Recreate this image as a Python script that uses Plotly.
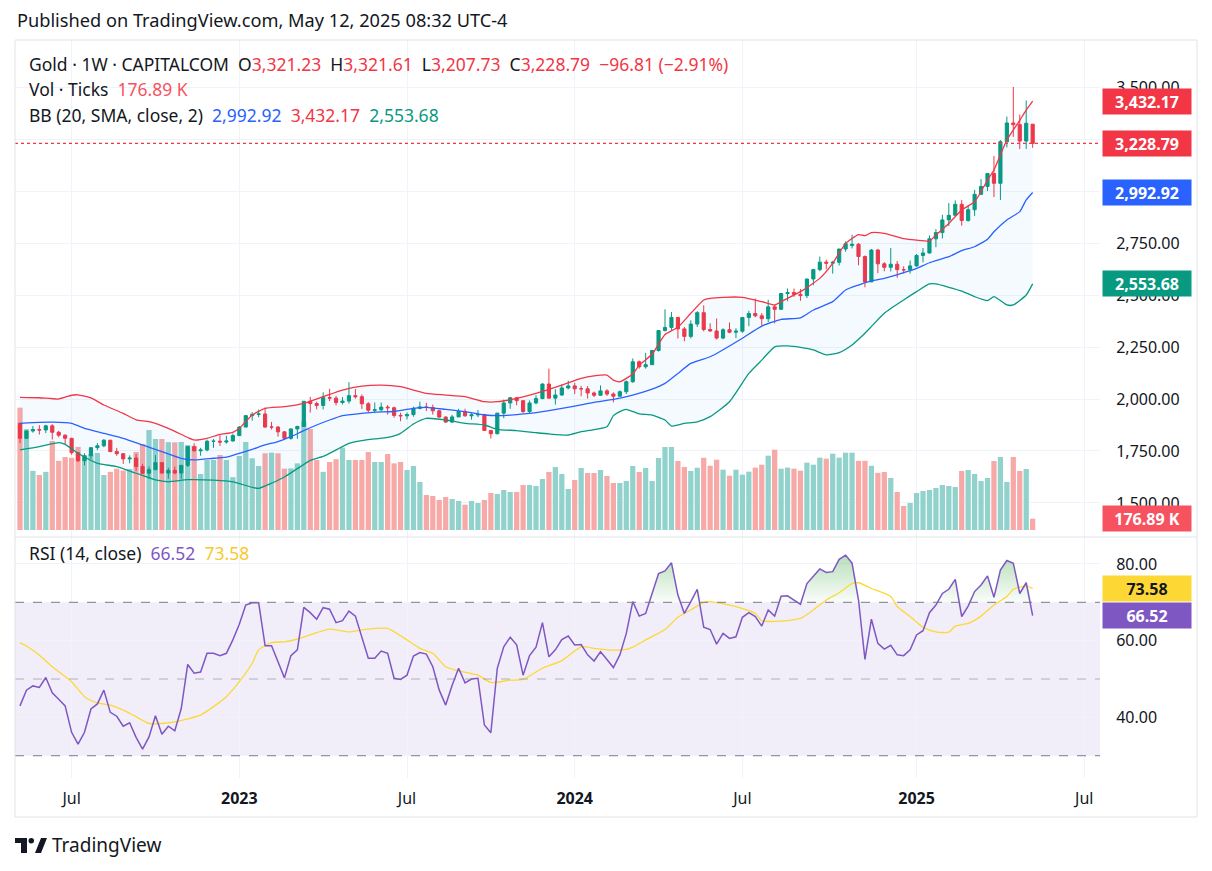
import plotly.graph_objects as go
import pandas as pd

# ---------------- data ----------------
start_date = "2022-05-09"   # first weekly bar (Monday)

opens = [1883,1811,1846,1853,1851,1871,1840,1826,1811,1742,
         1703,1727,1766,1775,1802,1747,1737,1712,1716,1675,
         1643,1660,1694,1644,1657,1644,1681,1771,1751,1755,
         1797,1797,1793,1798,1824,1865,1920,1926,1928,1865,
         1865,1842,1811,1856,1868,1989,1978,1969,2007,2004,
         1983,1990,2016,2011,1977,1946,1948,1961,1958,1921,
         1919,1925,1955,1962,1959,1943,1913,1889,1914,1940,
         1919,1924,1925,1849,1833,1932,1981,2006,1992,1940,
         1981,2002,2072,2004,2019,2053,2063,2049,2049,2029,
         2018,2039,2024,2013,2035,2083,2179,2155,2165,2233,
         2329,2344,2392,2337,2301,2360,2415,2334,2327,2293,
         2333,2321,2326,2392,2411,2400,2386,2443,2431,2507,
         2512,2503,2497,2577,2622,2658,2653,2657,2721,2738,
         2744,2685,2563,2716,2650,2633,2648,2622,2621,2640,
         2690,2702,2770,2800,2861,2883,2936,2858,2910,2984,
         3022,3084,3037,3237,3327,3319,3240,3321.23]
highs = [1886,1849,1870,1874,1876,1879,1847,1830,1813,1746,
         1739,1767,1788,1807,1802,1765,1740,1729,1735,1688,
         1675,1730,1696,1670,1675,1682,1774,1787,1765,1804,
         1808,1825,1823,1833,1870,1922,1937,1949,1959,1890,
         1870,1846,1858,1871,1989,2010,1987,2032,2049,2015,
         2009,2081,2048,2022,1985,1983,1983,1971,1963,1934,
         1935,1963,1987,1982,1973,1948,1917,1924,1953,1953,
         1932,1947,1929,1851,1933,1997,2010,2010,1993,1993,
         2018,2075,2146,2047,2071,2088,2078,2063,2062,2036,
         2065,2047,2032,2041,2089,2195,2185,2222,2236,2330,
         2431,2418,2395,2346,2378,2422,2450,2364,2387,2340,
         2368,2340,2393,2424,2483,2413,2477,2451,2509,2531,
         2531,2529,2578,2626,2685,2670,2664,2722,2758,2790,
         2750,2690,2721,2722,2658,2726,2664,2638,2665,2697,
         2726,2786,2817,2886,2942,2955,2956,2930,3005,3057,
         3086,3168,3245,3358,3500,3367,3435,3321.61]
lows = [1787,1807,1838,1829,1836,1805,1816,1784,1732,1697,
        1681,1711,1754,1768,1745,1727,1688,1691,1654,1640,
        1615,1659,1640,1617,1638,1616,1673,1747,1727,1748,
        1765,1774,1785,1796,1823,1865,1896,1912,1862,1853,
        1819,1809,1804,1809,1866,1935,1950,1950,1990,1969,
        1974,1978,2002,1952,1937,1932,1940,1925,1910,1893,
        1902,1915,1950,1942,1925,1910,1885,1884,1913,1915,
        1901,1913,1846,1810,1830,1908,1953,1970,1932,1931,
        1975,1999,2010,1973,2016,2047,2024,2013,2002,2009,
        2016,2015,1984,2013,2024,2078,2146,2146,2165,2228,
        2325,2332,2291,2277,2291,2346,2325,2323,2286,2287,
        2316,2293,2318,2350,2393,2353,2370,2364,2429,2470,
        2491,2472,2485,2547,2614,2624,2603,2642,2708,2724,
        2643,2537,2563,2605,2614,2613,2583,2603,2603,2636,
        2657,2700,2730,2772,2832,2881,2833,2853,2880,2983,
        3000,2971,2957,3210,3260,3202,3202,3207.73]
closes = [1811,1846,1853,1851,1871,1840,1826,1811,1742,1703,
          1727,1766,1775,1802,1747,1737,1712,1716,1675,1643,
          1660,1694,1644,1657,1644,1681,1771,1751,1755,1797,
          1797,1793,1798,1824,1865,1920,1926,1928,1865,1865,
          1842,1811,1856,1868,1989,1978,1969,2007,2004,1983,
          1990,2016,2011,1977,1946,1948,1961,1958,1921,1919,
          1925,1955,1962,1959,1943,1913,1889,1914,1940,1919,
          1924,1925,1849,1833,1932,1981,2006,1992,1940,1981,
          2002,2072,2004,2019,2053,2063,2049,2049,2029,2018,
          2039,2024,2013,2035,2083,2179,2155,2165,2233,2329,
          2344,2392,2337,2301,2360,2415,2334,2327,2293,2333,
          2321,2326,2392,2411,2400,2386,2443,2431,2507,2512,
          2503,2497,2577,2622,2658,2653,2657,2721,2747,2744,
          2685,2563,2716,2650,2633,2648,2622,2621,2640,2690,
          2702,2770,2800,2861,2883,2936,2858,2910,2984,3022,
          3084,3037,3237,3327,3319,3240,3325.60,3228.79]
volumes_k = [1915,1578,925,861,910,1393,1082,1142,1130,1300,
             1166,1190,1205,861,910,960,930,955,1220,1346,
             1565,1424,1424,1375,1372,1377,1330,1315,876,1096,
             1096,1174,1096,827,1158,1377,1122,1002,1200,1210,
             1200,960,965,1043,1700,1581,1096,910,1064,1108,
             1290,1096,1096,1096,1221,1064,1064,1189,1043,1064,
             939,1002,751,548,532,470,516,485,454,396,
             454,423,470,579,563,626,595,595,704,704,
             689,798,908,986,876,642,783,970,892,892,
             939,845,736,736,767,1002,908,970,767,1127,
             1299,1299,1080,986,923,975,1130,1005,1101,944,
             850,944,866,913,976,1022,1163,1257,960,976,
             960,929,1054,1022,1132,1116,1195,1132,1210,1210,
             1082,1082,1005,895,908,814,595,376,423,579,
             610,626,657,704,689,673,923,939,876,767,
             814,1080,1143,751,1143,923,955,176.89]

bb_upper_idx = [0,3,6,8,9,11,13,16,18,20,23,26,27,29,31,33,34,36,38,41,44,47,50,53,56,59,
                63,66,69,72,74,77,80,84,87,89,91,92,93,95,96,98,100,102,104,106,107,109,112,
                115,117,118,121,124,126,128,130,131,132,134,137,139,141,142,144,146,148,150,
                151,153,155,156,157]
bb_upper = [2008,2006,2000,2018,2020,2005,1971,1931,1900,1891,1859,1815,1803,1811,1830,1840,1859,
            1923,1955,1963,1979,2011,2043,2062,2067,2059,2027,2019,2011,1987,1987,2003,2027,2067,
            2099,2111,2115,2091,2083,2120,2163,2215,2310,2345,2412,2476,2484,2489,2489,2468,2452,
            2468,2516,2580,2652,2748,2790,2785,2800,2796,2771,2764,2760,2788,2844,2909,2948,3053,
            3101,3245,3340,3389,3432.17]
bb_mid_idx = [0,3,5,8,10,13,16,19,22,25,27,30,32,34,36,38,40,42,44,46,48,50,53,55,58,61,63,66,
              69,72,75,78,80,82,86,89,92,95,98,100,102,104,107,108,112,115,118,121,123,126,128,
              130,132,134,137,139,141,144,146,148,150,151,153,155,156,157]
bb_mid = [1883,1888,1889,1883,1859,1835,1811,1779,1747,1715,1707,1715,1720,1739,1758,1779,1795,
          1819,1848,1875,1899,1920,1931,1937,1940,1955,1960,1950,1939,1923,1920,1928,1934,1944,
          1966,1984,1998,2019,2047,2075,2123,2171,2203,2219,2292,2350,2383,2390,2428,2468,2524,
          2548,2568,2580,2607,2628,2655,2684,2713,2732,2768,2804,2861,2901,2957,2992.92]
bb_lower_idx = [0,3,6,7,9,12,15,18,21,23,26,30,33,36,37,39,41,43,45,47,49,51,53,55,57,59,61,63,
                66,69,72,74,77,80,82,85,87,91,92,93,94,96,98,100,101,103,105,107,110,113,115,117,
                119,121,123,125,127,129,131,132,134,137,139,141,142,144,146,148,150,151,153,154,
                156,157]
bb_lower = [1755,1771,1790,1782,1739,1691,1675,1643,1611,1602,1612,1610,1602,1575,1570,1595,1625,
            1665,1705,1724,1755,1787,1800,1808,1815,1835,1880,1907,1899,1883,1875,1854,1848,1838,
            1832,1827,1843,1867,1920,1939,1950,1928,1923,1899,1870,1883,1890,1915,1987,2123,2187,
            2251,2255,2248,2236,2212,2223,2260,2316,2348,2412,2476,2516,2553,2553,2537,2519,2492,
            2473,2492,2452,2452,2500,2553.68]

rsi = [43.0,47.1,48.2,47.8,50.4,46.4,44.7,43.0,36.1,33.0,
       36.1,42.2,43.5,47.1,41.3,40.3,37.7,38.6,34.8,31.7,
       34.9,40.4,35.6,37.7,36.5,42.3,53.8,51.5,51.8,56.7,
       56.7,56.1,56.7,60.2,64.3,69.3,69.9,69.9,58.7,58.7,
       54.5,50.3,56.1,57.6,68.7,67.3,65.6,68.6,68.2,64.7,
       65.2,67.7,66.4,60.6,55.4,55.4,57.3,56.7,50.2,49.9,
       51.0,56.0,56.9,56.5,53.2,47.1,43.2,48.4,52.8,49.0,
       50.0,50.2,38.0,36.0,52.8,58.4,60.9,58.9,51.0,56.1,
       58.3,64.7,55.8,57.6,60.3,61.2,58.9,59.0,56.3,54.7,
       57.1,55.1,53.0,56.3,61.9,70.2,66.4,67.1,72.3,77.5,
       78.2,80.3,71.9,67.1,70.2,73.4,63.5,62.9,59.1,61.9,
       60.6,61.0,66.1,67.3,66.3,63.8,68.0,66.4,71.6,71.7,
       70.6,69.5,74.9,76.9,78.7,77.8,78.0,81.2,82.3,80.2,
       70.6,55.1,65.6,59.3,57.8,58.8,56.3,56.1,57.6,61.5,
       62.6,67.3,69.3,72.3,73.4,76.0,66.3,69.0,72.8,74.5,
       76.9,71.3,78.4,80.9,80.2,72.3,75.1,66.52]
rsi_ma_idx = [0,1,3,5,8,10,12,14,16,18,20,22,24,26,28,30,32,34,36,37,39,41,43,46,48,51,53,55,57,
              60,62,64,66,68,71,73,76,78,81,84,87,89,91,94,95,97,100,102,104,106,107,109,111,114,
              115,118,121,123,125,127,129,130,132,135,136,138,140,142,144,145,147,149,151,153,154,
              156,157]
rsi_ma = [59.4,58.6,56.2,53.2,49.3,45.4,43.8,43.2,41.9,40.2,38.4,38.4,38.8,39.6,40.6,42.8,45.4,
          49.3,54.1,57.6,59.5,59.7,60.4,62.1,63.0,62.3,62.8,63.2,63.2,60.2,58.0,56.7,53.2,52.1,
          51.0,49.1,49.7,49.9,52.8,54.8,58.4,58.0,57.6,57.7,58.3,60.2,62.9,66.1,68.0,70.0,70.2,
          69.6,68.9,67.1,65.2,65.1,65.8,68.0,70.6,72.5,74.9,75.1,73.6,71.5,68.9,66.3,63.5,62.3,
          62.2,63.8,64.5,66.4,69.3,71.5,73.4,74.2,73.58]

price_ticks = [1500,1750,2000,2250,2500,2750,3000,3250,3500]
price_tick_text = ["1,500.00","1,750.00","2,000.00","2,250.00","2,500.00","2,750.00","","","3,500.00"]
rsi_ticks = [40,60,80]
time_tick_dates = ["2022-07-04","2023-01-02","2023-07-03","2024-01-01","2024-07-01","2025-01-06","2025-07-07"]
time_tick_text = ["Jul","<b>2023</b>","Jul","<b>2024</b>","Jul","<b>2025</b>","Jul"]

# ---------------- colours ----------------
UP = "#089981"; DN = "#F23645"; BLUE = "#2962FF"; PURPLE = "#7E57C2"; YEL = "#FDD835"
TXT = "#131722"; GRID = "#F0F3FA"; BORDER = "#E0E3EB"
FONT = "Noto Sans"

N = len(closes)
dates = pd.date_range(start_date, periods=N, freq="7D")
def d(i):
    return dates[0] + pd.Timedelta(days=7 * i)

vol_colors = ["#92D2CC" if c >= o else "#F7A9A7" for o, c in zip(opens, closes)]

# page offset (browser body margin) and plot-area helpers (target plot area 15..1100 x 40..778)
OFF = 8
def px(x): return (x - 15) / 1085
def py(y): return (778 - y) / 738
SPLIT = py(537)

fig = go.Figure()

fig.add_trace(go.Bar(x=dates, y=volumes_k, marker_color=vol_colors, marker_line_width=0,
                     width=5.7 * 86400000, xaxis="x", yaxis="y", hoverinfo="skip"))

fig.add_trace(go.Scatter(x=[d(i) for i in bb_upper_idx], y=bb_upper, mode="lines",
                         line=dict(color=DN, width=1.3, shape="spline", smoothing=0.5),
                         xaxis="x", yaxis="y2"))
fig.add_trace(go.Scatter(x=[d(i) for i in bb_lower_idx], y=bb_lower, mode="lines",
                         line=dict(color=UP, width=1.3, shape="spline", smoothing=0.5),
                         fill="tonexty", fillcolor="rgba(33,150,243,0.05)",
                         xaxis="x", yaxis="y2"))
fig.add_trace(go.Scatter(x=[d(i) for i in bb_mid_idx], y=bb_mid, mode="lines",
                         line=dict(color=BLUE, width=1.3, shape="spline", smoothing=0.5),
                         xaxis="x", yaxis="y2"))

fig.add_trace(go.Candlestick(x=dates, open=opens, high=highs, low=lows, close=closes,
                             increasing=dict(line=dict(color=UP, width=1), fillcolor=UP),
                             decreasing=dict(line=dict(color=DN, width=1), fillcolor=DN),
                             whiskerwidth=0, xaxis="x", yaxis="y2"))

fig.add_trace(go.Scatter(x=dates, y=[70] * N, mode="lines", line=dict(width=0),
                         xaxis="x", yaxis="y3", hoverinfo="skip"))
fig.add_trace(go.Scatter(x=dates, y=[max(v, 70) for v in rsi], mode="lines", line=dict(width=0),
                         fill="tonexty",
                         fillgradient=dict(type="vertical", start=70, stop=84,
                                           colorscale=[[0, "rgba(76,175,80,0.03)"],
                                                       [1, "rgba(76,175,80,0.45)"]]),
                         xaxis="x", yaxis="y3", hoverinfo="skip"))
fig.add_trace(go.Scatter(x=[d(i) for i in rsi_ma_idx], y=rsi_ma, mode="lines",
                         line=dict(color=YEL, width=1.3, shape="spline", smoothing=0.6),
                         xaxis="x", yaxis="y3"))
fig.add_trace(go.Scatter(x=dates, y=rsi, mode="lines", line=dict(color=PURPLE, width=1.5),
                         xaxis="x", yaxis="y3"))

x_left = dates[0] + pd.Timedelta(days=7 * (-0.775))
x_right = dates[0] + pd.Timedelta(days=7 * 167.44)

def fmt(v):
    return f"{v:,.2f}"

fig.update_layout(
    width=1212, height=871, paper_bgcolor="white", plot_bgcolor="white",
    margin=dict(l=15 - OFF, r=1212 - (1100 - OFF), t=40 - OFF, b=871 - (778 - OFF)),
    showlegend=False,
    font=dict(family=FONT, color=TXT, size=14),
    xaxis=dict(type="date", range=[x_left, x_right], anchor="y3",
               tickvals=time_tick_dates, ticktext=time_tick_text,
               showgrid=True, gridcolor=GRID, gridwidth=1, zeroline=False,
               ticks="outside", ticklen=6, tickcolor="rgba(0,0,0,0)",
               tickfont=dict(size=16, color=TXT), rangeslider=dict(visible=False),
               showline=False),
    yaxis=dict(domain=[SPLIT, 1], range=[-109.6, 7668.5], visible=False, fixedrange=True),
    yaxis2=dict(overlaying="y", side="right", anchor="x", range=[1336.5, 3726],
                tickvals=price_ticks, ticktext=price_tick_text,
                showgrid=True, gridcolor=GRID, zeroline=False,
                ticks="outside", ticklen=12, tickcolor="rgba(0,0,0,0)",
                tickfont=dict(size=16, color=TXT)),
    yaxis3=dict(domain=[0, SPLIT], side="right", anchor="x", range=[24.19, 87.03],
                tickvals=rsi_ticks, ticktext=[fmt(v) for v in rsi_ticks],
                showgrid=True, gridcolor=GRID, zeroline=False,
                ticks="outside", ticklen=12, tickcolor="rgba(0,0,0,0)",
                tickfont=dict(size=16, color=TXT)),
)

shapes = []
shapes.append(dict(type="rect", xref="paper", yref="y3", x0=0, x1=1, y0=30, y1=70,
                   fillcolor="rgba(126,87,194,0.1)", line_width=0, layer="below"))
for lvl, col in [(70, "#787B86"), (30, "#787B86"), (50, "rgba(120,123,134,0.55)")]:
    shapes.append(dict(type="line", xref="paper", yref="y3", x0=0, x1=1, y0=lvl, y1=lvl,
                       line=dict(color=col, width=1, dash="dash")))
shapes.append(dict(type="line", xref="paper", yref="y2", x0=0, x1=1, y0=closes[-1], y1=closes[-1],
                   line=dict(color=DN, width=1.2, dash="dot")))
shapes.append(dict(type="line", xref="paper", yref="paper", x0=0, x1=px(1197), y0=SPLIT, y1=SPLIT,
                   line=dict(color=BORDER, width=1)))
shapes.append(dict(type="rect", xref="paper", yref="paper", x0=0, x1=px(1197), y0=py(817), y1=1,
                   line=dict(color=BORDER, width=1), fillcolor="rgba(0,0,0,0)"))
# TradingView logo
shapes.append(dict(type="rect", xref="paper", yref="paper", x0=px(15), x1=px(27), y0=py(843), y1=py(838),
                   fillcolor=TXT, line_width=0))
shapes.append(dict(type="rect", xref="paper", yref="paper", x0=px(21), x1=px(27), y0=py(853), y1=py(838),
                   fillcolor=TXT, line_width=0))
shapes.append(dict(type="circle", xref="paper", yref="paper", x0=px(28.5), x1=px(34), y0=py(843.5), y1=py(838),
                   fillcolor=TXT, line_width=0))
shapes.append(dict(type="path", xref="paper", yref="paper",
                   path=f"M {px(35)} {py(853)} L {px(41)} {py(838)} L {px(47)} {py(838)} L {px(41)} {py(853)} Z",
                   fillcolor=TXT, line_width=0))
fig.update_layout(shapes=shapes)

ann = []
NB = "\u00a0"
def span(t, c):
    return f'<span style="color:{c}">{t}</span>'

LEG = 17.5
ann.append(dict(xref="paper", yref="paper", x=px(15), y=py(20), xanchor="left", yanchor="middle",
                text="Published on TradingView.com, May 12, 2025 08:32 UTC-4", showarrow=False,
                font=dict(size=18.2, color=TXT)))
chg = closes[-1] - closes[-2]
row1 = ("Gold · 1W · CAPITALCOM" + NB * 2 + "O" + span(fmt(opens[-1]), DN) + NB * 2 +
        "H" + span(fmt(highs[-1]), DN) + NB * 2 + "L" + span(fmt(lows[-1]), DN) + NB * 2 +
        "C" + span(fmt(closes[-1]), DN) + NB * 2 +
        span(f"−{abs(chg):.2f} (−{abs(chg) / closes[-2] * 100:.2f}%)", DN))
ann.append(dict(xref="paper", yref="paper", x=px(27), y=py(64), xanchor="left", yanchor="middle",
                text=row1, showarrow=False, font=dict(size=LEG, color=TXT)))
ann.append(dict(xref="paper", yref="paper", x=px(27), y=py(89), xanchor="left", yanchor="middle",
                text="Vol · Ticks" + NB * 2 + span(f"{volumes_k[-1]:.2f}" + NB + "K", "#F7525F"),
                showarrow=False, font=dict(size=LEG, color=TXT)))
ann.append(dict(xref="paper", yref="paper", x=px(27), y=py(115), xanchor="left", yanchor="middle",
                text="BB (20, SMA, close, 2)" + NB * 2 + span(fmt(bb_mid[-1]), BLUE) + NB * 2 +
                     span(fmt(bb_upper[-1]), DN) + NB * 2 + span(fmt(bb_lower[-1]), UP),
                showarrow=False, font=dict(size=LEG, color=TXT)))
ann.append(dict(xref="paper", yref="paper", x=px(27), y=py(553), xanchor="left", yanchor="middle",
                text="RSI (14, close)" + NB * 2 + span(f"{rsi[-1]:.2f}", PURPLE) + NB * 2 +
                     span(f"{rsi_ma[-1]:.2f}", "#F9C82B"),
                showarrow=False, font=dict(size=LEG, color=TXT)))
ann.append(dict(xref="paper", yref="paper", x=px(50), y=py(845), xanchor="left", yanchor="middle",
                text="TradingView", showarrow=False, font=dict(size=19, color=TXT)))

def label(yref, yv, text, bg, fg="white"):
    ann.append(dict(xref="paper", yref=yref, x=px(1102), y=yv, xanchor="left", yanchor="middle",
                    text=f"<b>{text}</b>", showarrow=False, bgcolor=bg, width=82, height=19,
                    borderpad=3, align="center", font=dict(size=16, color=fg)))
label("y2", bb_upper[-1], fmt(bb_upper[-1]), DN)
label("y2", closes[-1], fmt(closes[-1]), DN)
label("y2", bb_mid[-1], fmt(bb_mid[-1]), BLUE)
label("y2", bb_lower[-1], fmt(bb_lower[-1]), UP)
label("y", volumes_k[-1], f"{volumes_k[-1]:.2f}" + NB + "K", "#F7525F")
label("y3", rsi_ma[-1], f"{rsi_ma[-1]:.2f}", YEL, fg=TXT)
label("y3", rsi[-1], f"{rsi[-1]:.2f}", PURPLE)
fig.update_layout(annotations=ann)

fig.write_html("out.html")
